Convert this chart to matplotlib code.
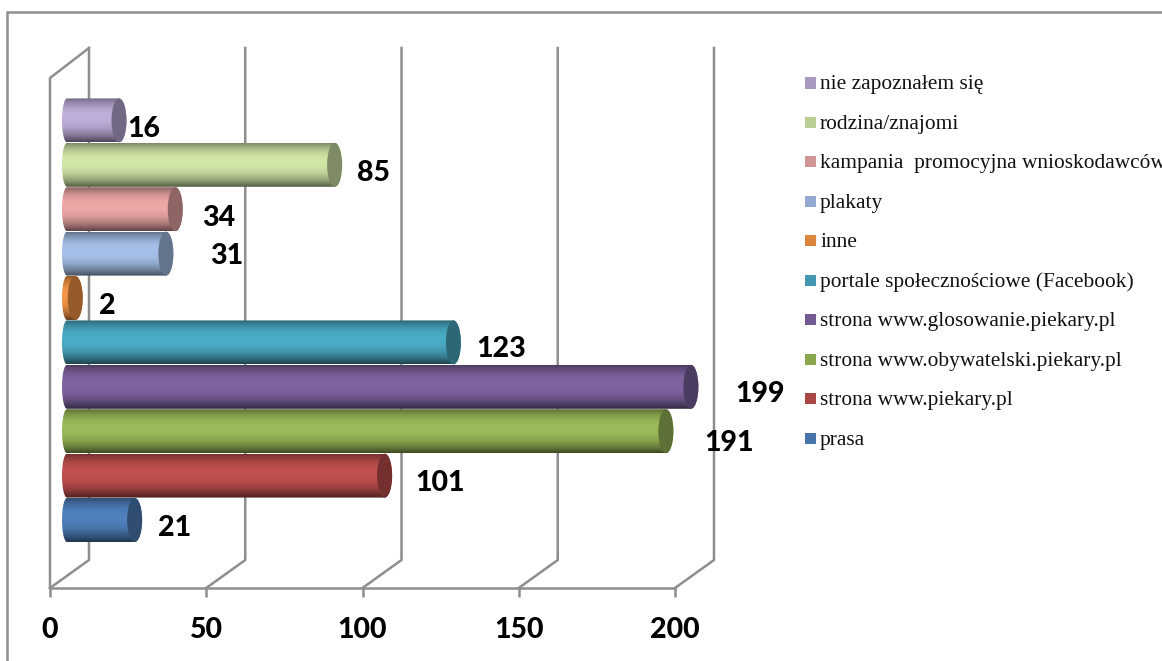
import numpy as np
import matplotlib
matplotlib.use("Agg")
import matplotlib.pyplot as plt
from matplotlib.colors import LinearSegmentedColormap
from matplotlib.patches import Ellipse, PathPatch, Rectangle
from matplotlib.path import Path

# bottom to top, same order as the bars
labels = ["prasa", "strona www.piekary.pl", "strona www.obywatelski.piekary.pl",
          "strona www.glosowanie.piekary.pl", "portale społecznościowe (Facebook)",
          "inne", "plakaty", "kampania  promocyjna wnioskodawców",
          "rodzina/znajomi", "nie zapoznałem się"]
values = [21, 101, 191, 199, 123, 2, 31, 34, 85, 16]
bar_colors = ["#4F81BD", "#C0504D", "#9BBB59", "#8064A2", "#4BACC6",
              "#F79646", "#A6C1E9", "#EDA7A7", "#D2E8A8", "#C0AEDB"]
legend_colors = ["#4674A8", "#AA4744", "#8AA64F", "#725990", "#4298B0",
                 "#DB853E", "#93A9D0", "#CF9595", "#B9CF95", "#A899BF"]
ticks = [0, 50, 100, 150, 200]
# label offset from the bar end, in pixels
label_dx = [40, 55, 63, 69, 48, 32, 61, 43, 39, 25]
label_dy = [8, 7, 12, 7, 7, 8, 2, 9, 8, 9]

W, H = 1162, 661
PX_X = 3.125   # pixels per unit of value
PX_Y = 44.4    # pixels per category
X0, Y0 = 50, 520

fig = plt.figure(figsize=(W / 100, H / 100), dpi=100)
ax = fig.add_axes([0, 0, 1, 1])
ax.set_xlim(-X0 / PX_X, (W - X0) / PX_X)
ax.set_ylim((Y0 - H) / PX_Y, Y0 / PX_Y)
ax.patch.set_alpha(0)

grey = "#8E8E8E"
line_w = 1.8
floor = (Y0 - 588) / PX_Y
back_floor = (Y0 - 560) / PX_Y
top = (Y0 - 48) / PX_Y
front_top = (Y0 - 78) / PX_Y
depth = 39 / PX_X
bar_start = 19 / PX_X
rx = 7.5 / PX_X     # half width of the end cap
rx_left = 5 / PX_X  # the left end looks flatter

for s in ["top", "left", "right"]:
    ax.spines[s].set_visible(False)
ax.spines["bottom"].set_position(("data", floor))
ax.spines["bottom"].set_bounds(0, 200)
ax.spines["bottom"].set_color(grey)
ax.spines["bottom"].set_linewidth(line_w)
ax.set_yticks([])
ax.set_xticks(ticks)
ax.tick_params(axis="x", color=grey, width=line_w, length=6.5, pad=14.7)
for t in ax.get_xticklabels():
    t.set_fontfamily("Lato")
    t.set_fontweight("black")
    t.set_fontsize(20.5)

# 3d walls and grid
for v in ticks:
    ax.plot([v, v + depth, v + depth], [floor, back_floor, top], color=grey, lw=line_w, zorder=1)
ax.plot([0, 0, depth], [floor, front_top, top], color=grey, lw=line_w, zorder=1)

# outer frame of the chart
fig.add_artist(Rectangle((7 / W, -0.1), W, 1.1 - 12 / H, transform=fig.transFigure,
                         fill=False, edgecolor=grey, lw=line_w))

t_grad = np.linspace(-1, 1, 64) + 0.15
shade = np.where(t_grad < 0, 1 - 0.40 * np.abs(t_grad / 0.85) ** 2.2,
                 1 - 0.60 * np.abs(t_grad / 1.15) ** 2.2)


def gradient(color):
    base = np.array(matplotlib.colors.to_rgb(color))
    return LinearSegmentedColormap.from_list("g", [base * s for s in shade])


def cylinder(i, value, color):
    x0 = bar_start
    x1 = bar_start + value
    hh = 0.495
    th = np.linspace(np.pi / 2, 3 * np.pi / 2, 40)
    left = np.column_stack([x0 - 2 / PX_X + rx_left * np.cos(th), i + hh * np.sin(th)])
    th2 = np.linspace(-np.pi / 2, np.pi / 2, 40)
    right = np.column_stack([x1 + rx * np.cos(th2), i + hh * np.sin(th2)])
    outline = np.vstack([left, right, left[:1]])
    im = ax.imshow(np.linspace(0, 1, 64)[:, None], cmap=gradient(color), aspect="auto",
                   extent=[x0 - rx, x1 + rx, i - hh, i + hh], origin="upper", zorder=3 + 0.1 * (10 - i))
    im.set_clip_path(PathPatch(Path(outline), transform=ax.transData))
    cap = np.array(matplotlib.colors.to_rgb(color)) * 0.6
    ax.add_patch(Ellipse((x1, i), 2 * rx, 2 * hh, facecolor=cap, edgecolor="none",
                         zorder=3.05 + 0.1 * (10 - i)))


for i, (v, c) in enumerate(zip(values, bar_colors)):
    cylinder(i, v, c)

# imshow resets the limits
ax.set_xlim(-X0 / PX_X, (W - X0) / PX_X)
ax.set_ylim((Y0 - H) / PX_Y, Y0 / PX_Y)

for i, v in enumerate(values):
    ax.annotate(str(v), (bar_start + v, i), xytext=(label_dx[i] * 0.72, -label_dy[i] * 0.72),
                textcoords="offset points", ha="center", va="center",
                fontfamily="Lato", fontweight="black", fontsize=20.5, color="black", zorder=10)

# legend, top entry first
for n, (lab, col) in enumerate(zip(labels[::-1], legend_colors[::-1])):
    y = 83 + 39.45 * n
    fig.add_artist(Rectangle((805 / W, 1 - (y + 5.5) / H), 11 / W, 11 / H,
                             transform=fig.transFigure, facecolor=col, edgecolor="none"))
    fig.text(820 / W, 1 - (y + 2) / H, lab, fontfamily="Liberation Serif", fontsize=15.4,
             color="#111111", ha="left", va="center")

fig.savefig("out.png", dpi=100)
